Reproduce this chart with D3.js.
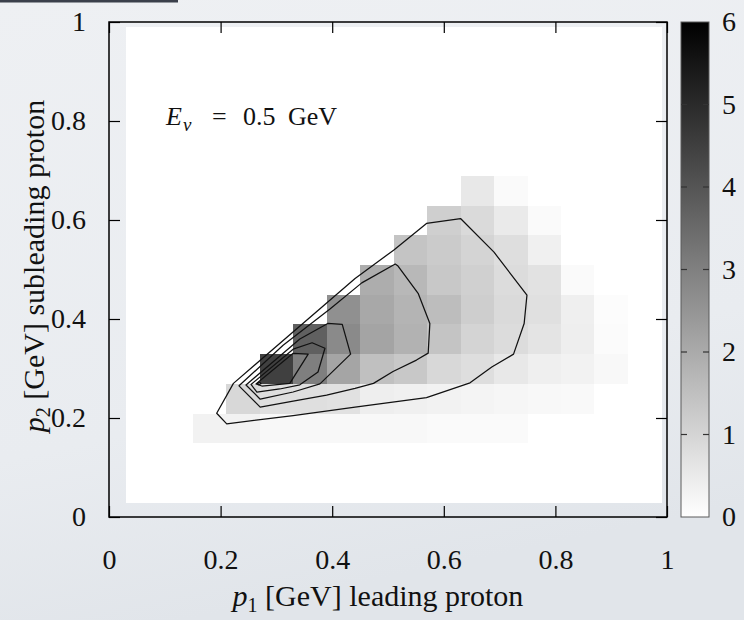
<!DOCTYPE html>
<html>
<head>
<meta charset="utf-8">
<script src="https://cdn.jsdelivr.net/npm/d3@7"></script>
<style>
  html, body { margin: 0; padding: 0; }
  body { width: 744px; height: 620px; overflow: hidden; }
  svg text { font-family: "Liberation Serif", "DejaVu Serif", serif; fill: #111; }
</style>
</head>
<body>
<svg id="chart" width="744" height="620"></svg>
<script>
// Bin centres of the 2D histogram (GeV), same binning on both axes
const binCentres = [0.06, 0.12, 0.18, 0.24, 0.30, 0.36, 0.42, 0.48,
                    0.54, 0.60, 0.66, 0.72, 0.78, 0.84, 0.90, 0.96];

// Event density per bin; one array per p2 bin, entries run over p1 bins
const rowP2_006 = [0,0,0,0,0,0,0,0,0,0,0,0,0,0,0,0];
const rowP2_012 = [0,0,0,0,0,0,0,0,0,0,0,0,0,0,0,0];
const rowP2_018 = [0,0,0.30,0.30,0.16,0.16,0.16,0.16,0.16,0.12,0.12,0.12,0,0,0,0];
const rowP2_024 = [0,0,0,0.92,0.75,0.75,0.70,0.40,0.35,0.31,0.26,0.21,0.16,0.14,0,0];
const rowP2_030 = [0,0,0,0,4.49,3.01,2.12,1.48,1.29,0.92,0.78,0.54,0.38,0.31,0.16,0];
const rowP2_036 = [0,0,0,0,0,3.74,2.75,2.14,1.81,1.39,1.01,0.82,0.64,0.40,0.09,0];
const rowP2_042 = [0,0,0,0,0,0,2.61,2.05,1.76,1.55,1.15,0.87,0.73,0.38,0.07,0];
const rowP2_048 = [0,0,0,0,0,0,0,1.93,1.67,1.29,1.11,0.82,0.68,0.12,0,0];
const rowP2_054 = [0,0,0,0,0,0,0,0,1.39,1.22,1.01,0.78,0.35,0,0,0];
const rowP2_060 = [0,0,0,0,0,0,0,0,0,1.13,0.87,0.49,0.12,0,0,0];
const rowP2_066 = [0,0,0,0,0,0,0,0,0,0,0.54,0.12,0,0,0,0];
const rowP2_072 = [0,0,0,0,0,0,0,0,0,0,0,0,0,0,0,0];
const rowP2_078 = [0,0,0,0,0,0,0,0,0,0,0,0,0,0,0,0];
const rowP2_084 = [0,0,0,0,0,0,0,0,0,0,0,0,0,0,0,0];
const rowP2_090 = [0,0,0,0,0,0,0,0,0,0,0,0,0,0,0,0];
const rowP2_096 = [0,0,0,0,0,0,0,0,0,0,0,0,0,0,0,0];
const densityRows = [rowP2_006, rowP2_012, rowP2_018, rowP2_024, rowP2_030, rowP2_036,
                     rowP2_042, rowP2_048, rowP2_054, rowP2_060, rowP2_066, rowP2_072,
                     rowP2_078, rowP2_084, rowP2_090, rowP2_096];

// Contour lines of the model prediction, [p1, p2] in GeV, outermost first
const contourLevel1 = [[0.193,0.2095],[0.211,0.188],[0.330,0.205],[0.441,0.222],[0.569,0.241],
  [0.647,0.271],[0.686,0.303],[0.725,0.329],[0.744,0.391],[0.749,0.448],[0.690,0.535],
  [0.630,0.603],[0.569,0.593],[0.510,0.539],[0.441,0.482],[0.223,0.270]];
const contourLevel2 = [[0.233,0.265],[0.312,0.347],[0.396,0.420],[0.453,0.473],[0.513,0.511],
  [0.518,0.507],[0.554,0.452],[0.575,0.391],[0.572,0.331],[0.551,0.317],[0.509,0.294],
  [0.474,0.270],[0.441,0.260],[0.390,0.246],[0.330,0.234],[0.271,0.222]];
const contourLevel3 = [[0.2455,0.2667],[0.342,0.3596],[0.392,0.391],[0.418,0.389],[0.433,0.329],
  [0.378,0.269],[0.330,0.2525],[0.271,0.238]];
const contourLevel4 = [[0.2545,0.2677],[0.330,0.339],[0.364,0.352],[0.387,0.341],[0.3746,0.293],
  [0.342,0.267],[0.306,0.2586],[0.265,0.2525]];
const contourLevel5 = [[0.2634,0.2687],[0.330,0.3307],[0.357,0.329],[0.324,0.270],[0.274,0.2646]];
const contourLevel6 = [[0.266,0.270],[0.270,0.2725],[0.2725,0.2695],[0.268,0.2675]];
const contours = [contourLevel1, contourLevel2, contourLevel3, contourLevel4, contourLevel5, contourLevel6];

// Axis ticks
const axisTicks = [0, 0.2, 0.4, 0.6, 0.8, 1];
const colourTicks = [0, 1, 2, 3, 4, 5, 6];
const colourMax = 6;

const svg = d3.select("#chart");

// page backdrop
const defs = svg.append("defs");
const bg = defs.append("linearGradient").attr("id", "backdrop")
  .attr("x1", 0).attr("y1", 0).attr("x2", 0.25).attr("y2", 1);
bg.append("stop").attr("offset", "0%").attr("stop-color", "#eef0f3");
bg.append("stop").attr("offset", "70%").attr("stop-color", "#e9ecf0");
bg.append("stop").attr("offset", "100%").attr("stop-color", "#e1e5ea");
svg.append("rect").attr("width", 744).attr("height", 620).attr("fill", "url(#backdrop)");
svg.append("rect").attr("x", 0).attr("y", 0).attr("width", 178).attr("height", 2.5).attr("fill", "#3b404b");

const x = d3.scaleLinear().domain([0, 1]).range([109, 667]);
const y = d3.scaleLinear().domain([0, 1]).range([517, 22]);
const grey = d3.scaleLinear().domain([0, colourMax]).range(["#ffffff", "#000000"]).clamp(true);

// histogram cells
const half = (binCentres[1] - binCentres[0]) / 2;
const cells = [];
densityRows.forEach((row, j) => row.forEach((v, i) => cells.push({p1: binCentres[i], p2: binCentres[j], v})));
svg.append("g").attr("shape-rendering", "crispEdges")
  .selectAll("rect").data(cells).join("rect")
  .attr("x", d => x(d.p1 - half))
  .attr("y", d => y(d.p2 + half))
  .attr("width", d => x(d.p1 + half) - x(d.p1 - half) + 0.5)
  .attr("height", d => y(d.p2 - half) - y(d.p2 + half) + 0.5)
  .attr("fill", d => grey(d.v));

// contours
const line = d3.line().x(d => x(d[0])).y(d => y(d[1])).curve(d3.curveLinearClosed);
svg.append("g").selectAll("path").data(contours).join("path")
  .attr("d", line).attr("fill", "none").attr("stroke", "#111").attr("stroke-width", 1.25)
  .attr("stroke-linejoin", "round");

// axes with inward ticks on all four sides
const tickLen = 11;
const fmt = d3.format("~g");
const styleAxis = g => {
  g.select(".domain").remove();
  g.selectAll(".tick line").attr("stroke", "#000").attr("stroke-width", 1.2);
  g.selectAll(".tick text").attr("font-size", 28).attr("fill", "#111")
    .attr("font-family", "'Liberation Serif', 'DejaVu Serif', serif");
};
svg.append("g").attr("transform", "translate(0,517)")
  .call(d3.axisBottom(x).tickValues(axisTicks).tickFormat(fmt).tickSize(-tickLen).tickPadding(32))
  .call(styleAxis);
svg.append("g").attr("transform", "translate(0,22)")
  .call(d3.axisTop(x).tickValues(axisTicks).tickFormat("").tickSize(-tickLen))
  .call(styleAxis);
svg.append("g").attr("transform", "translate(109,0)")
  .call(d3.axisLeft(y).tickValues(axisTicks).tickFormat(fmt).tickSize(-tickLen).tickPadding(23))
  .call(styleAxis);
svg.append("g").attr("transform", "translate(667,0)")
  .call(d3.axisRight(y).tickValues(axisTicks).tickFormat("").tickSize(-tickLen))
  .call(styleAxis);

// frame
svg.append("rect").attr("x", x(0)).attr("y", y(1)).attr("width", x(1) - x(0)).attr("height", y(0) - y(1))
  .attr("fill", "none").attr("stroke", "#000").attr("stroke-width", 1.5);

// colour bar
const cb = {x0: 681, x1: 709};
const cScale = d3.scaleLinear().domain([0, colourMax]).range([517, 22]);
const cg = defs.append("linearGradient").attr("id", "greyRamp")
  .attr("x1", 0).attr("y1", 1).attr("x2", 0).attr("y2", 0);
d3.range(0, 11).forEach(k => {
  cg.append("stop").attr("offset", (k * 10) + "%").attr("stop-color", grey(colourMax * k / 10));
});
svg.append("rect").attr("x", cb.x0).attr("y", cScale(colourMax))
  .attr("width", cb.x1 - cb.x0).attr("height", cScale(0) - cScale(colourMax))
  .attr("fill", "url(#greyRamp)").attr("stroke", "#5a5a5a").attr("stroke-width", 1);
const inner = colourTicks.filter(t => t > 0 && t < colourMax);
svg.append("g").selectAll("line.l").data(inner).join("line")
  .attr("x1", cb.x0).attr("x2", cb.x0 + 6).attr("y1", d => cScale(d)).attr("y2", d => cScale(d))
  .attr("stroke", "#333").attr("stroke-width", 1.2);
svg.append("g").selectAll("line.r").data(inner).join("line")
  .attr("x1", cb.x1 - 6).attr("x2", cb.x1).attr("y1", d => cScale(d)).attr("y2", d => cScale(d))
  .attr("stroke", "#333").attr("stroke-width", 1.2);
svg.append("g").attr("transform", `translate(${cb.x1},0)`)
  .call(d3.axisRight(cScale).tickValues(colourTicks).tickFormat(fmt).tickSize(0).tickPadding(13))
  .call(styleAxis);

// axis titles
const xt = svg.append("text").attr("x", 378).attr("y", 606).attr("text-anchor", "middle").attr("font-size", 30);
xt.append("tspan").attr("font-style", "italic").text("p");
xt.append("tspan").attr("font-size", 20).attr("dy", 6).text("1");
xt.append("tspan").attr("dy", -6).text(" [GeV] leading proton");

const yt = svg.append("text").attr("transform", "translate(44,266) rotate(-90)")
  .attr("text-anchor", "middle").attr("font-size", 30);
yt.append("tspan").attr("font-style", "italic").text("p");
yt.append("tspan").attr("font-size", 20).attr("dy", 6).text("2");
yt.append("tspan").attr("dy", -6).text(" [GeV] subleading proton");

// beam energy label
const lab = svg.append("g");
lab.append("text").attr("x", 166).attr("y", 125).attr("font-style", "italic").attr("font-size", 26).text("E");
lab.append("text").attr("x", 183).attr("y", 131).attr("font-style", "italic").attr("font-size", 19).text("ν");
lab.append("text").attr("x", 212).attr("y", 125).attr("font-size", 26).text("=");
lab.append("text").attr("x", 243).attr("y", 125).attr("font-size", 26).text("0.5");
lab.append("text").attr("x", 288).attr("y", 125).attr("font-size", 26).text("GeV");
</script>
</body>
</html>
